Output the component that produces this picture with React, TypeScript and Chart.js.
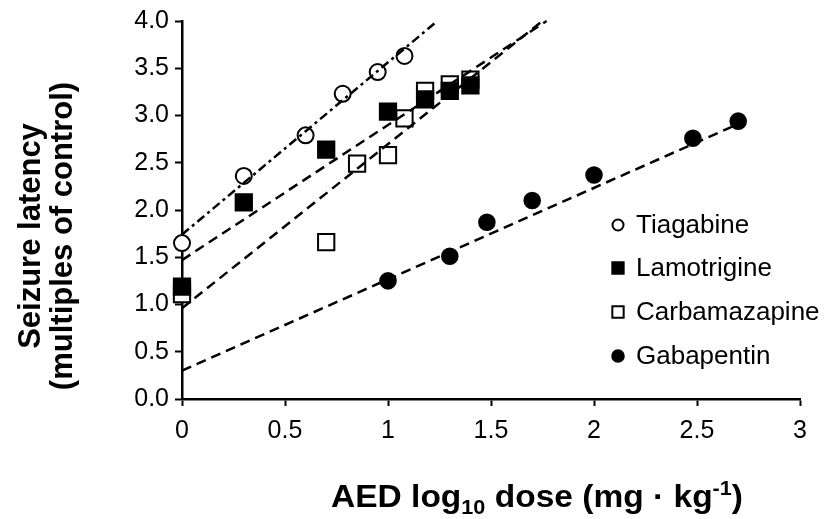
import React, { useEffect, useRef } from "react";
import { Chart, registerables } from "chart.js";

Chart.register(...registerables);

// ---- Data (log10 dose, seizure latency as multiples of control) ----
const tiagabineX = [0, 0.3, 0.6, 0.78, 0.95, 1.08];
const tiagabineY = [1.65, 2.36, 2.79, 3.23, 3.46, 3.63];

const lamotrigineX = [0, 0.3, 0.7, 1.0, 1.18, 1.3, 1.4];
const lamotrigineY = [1.19, 2.08, 2.64, 3.04, 3.17, 3.26, 3.32];

const carbamazepineX = [0, 0.7, 0.85, 1.0, 1.08, 1.18, 1.3, 1.4];
const carbamazepineY = [1.11, 1.66, 2.49, 2.58, 2.97, 3.26, 3.33, 3.38];

const gabapentinX = [1.0, 1.3, 1.48, 1.7, 2.0, 2.48, 2.7];
const gabapentinY = [1.25, 1.51, 1.87, 2.1, 2.37, 2.76, 2.94];

// Trend line end points
const tiagabineFitX = [0, 1.24];
const tiagabineFitY = [1.74, 4.0];
const lamotrigineFitX = [0, 1.77];
const lamotrigineFitY = [1.47, 4.0];
const carbamazepineFitX = [0, 1.75];
const carbamazepineFitY = [0.96, 4.0];
const gabapentinFitX = [0, 2.72];
const gabapentinFitY = [0.3, 2.93];

const seriesNames = ["Tiagabine", "Lamotrigine", "Carbamazapine", "Gabapentin"];
const xTickValues = [0, 0.5, 1, 1.5, 2, 2.5, 3];
const yTickValues = [0, 0.5, 1, 1.5, 2, 2.5, 3, 3.5, 4];

const FONT = "'Liberation Sans', Arial, Helvetica, sans-serif";

const zip = (xs: number[], ys: number[]) => xs.map((x, i) => ({ x, y: ys[i] }));

const markerStyles = [
  { pointStyle: "circle", radius: 8, bg: "#ffffff", lr: 5.5 },
  { pointStyle: "rect", radius: 11.5, bg: "#000000", lr: 8 },
  { pointStyle: "rect", radius: 11.5, bg: "#ffffff", lr: 8 },
  { pointStyle: "circle", radius: 7.8, bg: "#000000", lr: 5.8 },
];

const overlayPlugin = {
  id: "overlay",
  afterDraw(chart: any) {
    const ctx = chart.ctx as CanvasRenderingContext2D;
    ctx.save();
    ctx.fillStyle = "#000";

    // Y axis title (two lines, rotated)
    const yMid = 236;
    ctx.font = `bold 31px ${FONT}`;
    ctx.textAlign = "center";
    ctx.textBaseline = "middle";
    [["Seizure latency", 31], ["(multiples of control)", 63]].forEach(([t, x]) => {
      ctx.save();
      ctx.translate(x as number, yMid);
      ctx.rotate(-Math.PI / 2);
      ctx.fillText(t as string, 0, 0);
      ctx.restore();
    });

    // X axis title with sub/superscript
    const big = `bold 31px ${FONT}`;
    const small = `bold 20px ${FONT}`;
    const base = 507;
    const parts: [string, string, number][] = [
      ["AED log", big, 0],
      ["10", small, 7],
      [" dose (mg \u00B7 kg", big, 0],
      ["-1", small, -12],
      [")", big, 0],
    ];
    let total = 0;
    parts.forEach(([t, f]) => {
      ctx.font = f;
      total += ctx.measureText(t).width;
    });
    const targetW = 412;
    const sx = targetW / total;
    ctx.save();
    ctx.translate(537 - targetW / 2, base);
    ctx.scale(sx, 1);
    let x = 0;
    ctx.textAlign = "left";
    ctx.textBaseline = "alphabetic";
    parts.forEach(([t, f, dy]) => {
      ctx.font = f;
      ctx.fillText(t, x, dy);
      x += ctx.measureText(t).width;
    });
    ctx.restore();

    // Legend
    const rows = [225, 268, 312, 356];
    ctx.font = `26px ${FONT}`;
    ctx.textBaseline = "middle";
    ctx.textAlign = "left";
    seriesNames.forEach((name, i) => {
      const m = markerStyles[i];
      const cx = 618;
      const cy = rows[i];
      ctx.beginPath();
      if (m.pointStyle === "circle") {
        ctx.arc(cx, cy, m.lr, 0, Math.PI * 2);
      } else {
        const s = m.lr * Math.SQRT1_2;
        ctx.rect(cx - s, cy - s, 2 * s, 2 * s);
      }
      ctx.fillStyle = m.bg;
      ctx.fill();
      ctx.lineWidth = 2;
      ctx.strokeStyle = "#000";
      ctx.stroke();
      ctx.fillStyle = "#000";
      ctx.fillText(name, 636, cy + 1);
    });
    ctx.restore();
  },
};

export default function App() {
  const canvasRef = useRef<HTMLCanvasElement | null>(null);

  useEffect(() => {
    document.body.style.margin = "0";
    const canvas = canvasRef.current;
    if (!canvas) return;

    const pointSets = [
      zip(tiagabineX, tiagabineY),
      zip(lamotrigineX, lamotrigineY),
      zip(carbamazepineX, carbamazepineY),
      zip(gabapentinX, gabapentinY),
    ];
    const orders = [3, 1, 2, 3];
    const pointDatasets = pointSets.map((data, i) => ({
      type: "scatter" as const,
      label: seriesNames[i],
      data,
      showLine: false,
      pointStyle: markerStyles[i].pointStyle,
      pointRadius: markerStyles[i].radius,
      pointHoverRadius: markerStyles[i].radius,
      pointBackgroundColor: markerStyles[i].bg,
      pointBorderColor: "#000",
      pointBorderWidth: 2,
      order: orders[i],
      clip: false as any,
    }));

    const fits = [
      { data: zip(tiagabineFitX, tiagabineFitY), dash: [9, 4, 3, 4] },
      { data: zip(lamotrigineFitX, lamotrigineFitY), dash: [10, 6] },
      { data: zip(carbamazepineFitX, carbamazepineFitY), dash: [10, 6] },
      { data: zip(gabapentinFitX, gabapentinFitY), dash: [10, 6] },
    ];
    const fitDatasets = fits.map((f, i) => ({
      type: "line" as const,
      label: seriesNames[i] + " fit",
      data: f.data,
      showLine: true,
      borderColor: "#000",
      borderWidth: 2.5,
      borderDash: f.dash,
      pointRadius: 0,
      fill: false,
      order: 0,
      clip: false as any,
    }));

    const chart = new Chart(canvas, {
      type: "scatter",
      data: { datasets: [...fitDatasets, ...pointDatasets] as any },
      plugins: [overlayPlugin],
      options: {
        animation: false,
        responsive: true,
        maintainAspectRatio: false,
        layout: { padding: { top: 17, right: 35, left: 0, bottom: 0 } },
        plugins: {
          legend: { display: false },
          tooltip: { enabled: false },
        },
        scales: {
          x: {
            type: "linear",
            min: 0,
            max: 3,
            afterBuildTicks: (scale: any) => {
              scale.ticks = xTickValues.map((v) => ({ value: v }));
            },
            afterFit: (scale: any) => {
              scale.height = 120;
            },
            ticks: {
              color: "#000",
              font: { family: FONT, size: 25 },
              padding: 10,
              maxRotation: 0,
              callback: (v: any) => String(v),
            },
            grid: {
              drawOnChartArea: false,
              drawTicks: true,
              tickLength: 7,
              tickWidth: 2,
              tickColor: "#000",
            },
            border: { color: "#000", width: 2.5 },
          },
          y: {
            type: "linear",
            min: 0,
            max: 4,
            afterBuildTicks: (scale: any) => {
              scale.ticks = yTickValues.map((v) => ({ value: v }));
            },
            afterFit: (scale: any) => {
              scale.width = 182;
            },
            ticks: {
              color: "#000",
              font: { family: FONT, size: 25 },
              padding: 6,
              callback: (v: any) => Number(v).toFixed(1),
            },
            grid: {
              drawOnChartArea: false,
              drawTicks: true,
              tickLength: 7,
              tickWidth: 2,
              tickColor: "#000",
            },
            border: { color: "#000", width: 2.5 },
          },
        },
      } as any,
    });

    return () => chart.destroy();
  }, []);

  return (
    <div style={{ position: "relative", width: 835, height: 519, background: "#fff" }}>
      <canvas ref={canvasRef} />
    </div>
  );
}
